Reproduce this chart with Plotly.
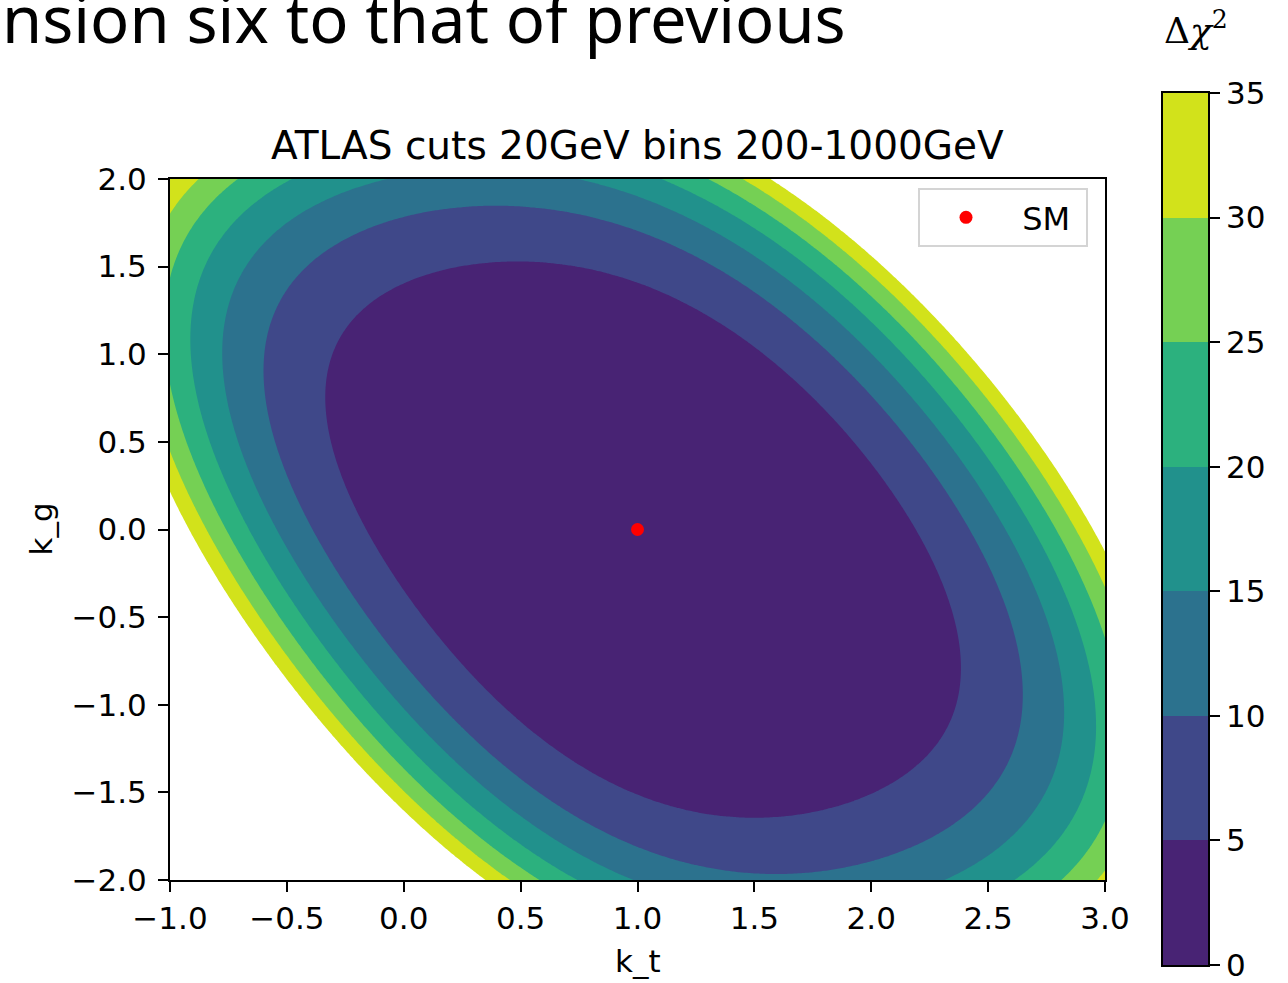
import numpy as np
import plotly.graph_objects as go

# ---------------- data ----------------
title_text = "ATLAS cuts 20GeV bins 200-1000GeV"
x_label = "k_t"
y_label = "k_g"
slide_text = "nsion six to that of previous"
legend_name = "SM"

sm_kt = [1.0]
sm_kg = [0.0]

# contour levels (Delta chi^2)
levels = [0, 5, 10, 15, 20, 25, 30, 35]
band_colors = ["#482374", "#3f4889", "#2c728e", "#21918c",
               "#2cb17e", "#75d054", "#d2e21b"]

# points read on the boundaries of the filled bands (k_t, k_g, level)
bnd_kt = [0.467, -0.046, -0.243, -0.316, -0.324, -0.302, -0.187, -0.144,
          0.185, 1.011, 1.511, 2.18, 2.388, 2.209, 1.61, 0.968,
          2.422, -0.388, 0.455, -0.585, 1.61, 2.649, 0.968,
          2.563, -0.542, -0.016, 0.74, 0.99, 2.337, -0.756, 2.82,
          2.692, -0.658, -0.457, 1.109, 0.741, 2.66, -0.893, 2.953,
          2.794, -0.756, -0.69, 1.31, 0.583, 2.84, -1.0, -1.0, 3.0, 3.0,
          2.88, -0.829, -0.87, 1.451, 0.455, -1.0, -1.0, 3.0,
          2.949, -0.884, 1.567, 3.0, -1.0, 0.348, 2.478, 2.11,
          -0.671, -0.358, 0.082]
bnd_kg = [1.526, 1.384, 1.213, 0.984, 0.796, 0.437, 0.054, 0.0,
          -0.705, -1.527, -1.646, -1.315, -0.762, 0.0, 0.87, 1.44,
          0.0, 0.0, 1.835, 0.910, -1.954, -0.973, 1.72,
          0.0, 0.0, 2.0, 2.0, -2.0, -2.0, 1.064, -1.087,
          0.0, 0.0, 2.0, 2.0, -2.0, -2.0, 1.098, -1.184,
          0.0, 0.0, 2.0, 2.0, -2.0, -2.0, 1.41, 0.482, -0.648, -1.658,
          0.0, 0.0, 2.0, 2.0, -2.0, 1.806, 0.351, -0.362,
          0.0, 0.0, 2.0, -0.157, 0.283, -2.0, 0.91, 1.48,
          -0.516, -1.087, -1.658]
bnd_lvl = [5] * 16 + [10] * 7 + [15] * 8 + [20] * 8 + [25] * 10 + [30] * 8 + [35] * 11

xticks = [-1.0, -0.5, 0.0, 0.5, 1.0, 1.5, 2.0, 2.5, 3.0]
yticks = [-2.0, -1.5, -1.0, -0.5, 0.0, 0.5, 1.0, 1.5, 2.0]

# ---------------- surface through the read boundaries ----------------
dx = np.array(bnd_kt) - sm_kt[0]
dy = np.array(bnd_kg) - sm_kg[0]
lv = np.array(bnd_lvl, dtype=float)
powers = [(i, d - i) for d in (2, 3, 4) for i in range(d + 1)]
A = np.stack([dx ** i * dy ** j for i, j in powers], axis=1)
w = 1.0 / lv
coef = np.linalg.lstsq(A * w[:, None], lv * w, rcond=None)[0]

kt_grid = np.linspace(-1.0, 3.0, 321)
kg_grid = np.linspace(-2.0, 2.0, 321)
DX, DY = np.meshgrid(kt_grid - sm_kt[0], kg_grid - sm_kg[0])
Z = np.zeros_like(DX)
for c, (i, j) in zip(coef, powers):
    Z += c * DX ** i * DY ** j

# fill colorscale: bands below 5 ... 30-35, and white above 35
fill_cols = band_colors + ["#ffffff"]
nb = len(fill_cols)
cs_fill = []
for k, col in enumerate(fill_cols):
    lo = max(0.0, (k - 0.5) / (nb - 1))
    hi = min(1.0, (k + 0.5) / (nb - 1))
    cs_fill += [[lo, col], [hi, col]]

# colorbar colorscale (7 steps)
nc = len(band_colors)
cs_bar = []
for k, col in enumerate(band_colors):
    cs_bar += [[k / nc, col], [(k + 1) / nc, col]]

W, H = 1288, 983
px_l, px_r, px_t, px_b = 170, 1105, 179, 880
cb_l, cb_r, cb_t, cb_b = 1163, 1208, 93, 965

def fx(p):
    return p / W

def fy(p):
    return 1 - p / H

fig = go.Figure()
fig.add_trace(go.Contour(
    x=kt_grid, y=kg_grid, z=Z,
    autocontour=False,
    contours=dict(start=levels[1], end=levels[-1], size=levels[1] - levels[0],
                  coloring="fill", showlines=False),
    colorscale=cs_fill, showscale=False, line=dict(width=0),
    hoverinfo="skip", showlegend=False, xaxis="x", yaxis="y"))

fig.add_trace(go.Scatter(
    x=sm_kt, y=sm_kg, mode="markers", name="\u00a0" + legend_name + "\u00a0",
    marker=dict(color="red", size=13, line=dict(width=0)),
    xaxis="x", yaxis="y"))

mids = [(levels[k] + levels[k + 1]) / 2 for k in range(nc)]
fig.add_trace(go.Heatmap(
    x=[0], y=mids, z=[[m] for m in mids], zmin=levels[0], zmax=levels[-1],
    colorscale=cs_bar, showscale=False, hoverinfo="skip",
    xaxis="x2", yaxis="y2"))

axis_common = dict(showline=True, linecolor="black", linewidth=2, mirror=True,
                   ticks="outside", ticklen=10, tickwidth=2, tickcolor="black",
                   showgrid=False, zeroline=False, automargin=False)

fig.update_layout(
    width=W, height=H, autosize=False,
    margin=dict(l=0, r=0, t=0, b=0, pad=0, autoexpand=False),
    paper_bgcolor="white", plot_bgcolor="white",
    font=dict(family="DejaVu Sans", size=31, color="black"),
    xaxis=dict(domain=[fx(px_l), fx(px_r)], range=[-1, 3], tickvals=xticks,
               tickformat=".1f", anchor="y", **axis_common),
    yaxis=dict(domain=[fy(px_b), fy(px_t)], range=[-2, 2], tickvals=yticks,
               tickformat=".1f", anchor="x", ticklabelstandoff=5, **axis_common),
    xaxis2=dict(domain=[fx(cb_l), fx(cb_r)], range=[-0.5, 0.5], anchor="y2",
                showline=True, linecolor="black", linewidth=1.5, mirror=True,
                showticklabels=False, ticks="", showgrid=False, zeroline=False,
                automargin=False),
    yaxis2=dict(domain=[fy(cb_b), fy(cb_t)], range=[levels[0], levels[-1]],
                tickvals=levels, anchor="x2", side="right",
                showline=True, linecolor="black", linewidth=1.5, mirror=True,
                ticks="outside", ticklen=10, tickwidth=2, tickcolor="black",
                showgrid=False, zeroline=False, automargin=False),
    legend=dict(x=fx(1088), xanchor="right", y=fy(188), yanchor="top",
                bgcolor="white", bordercolor="#d4d4d4", borderwidth=2,
                font=dict(size=32), itemwidth=82),
    showlegend=True,
)

fig.add_annotation(text=title_text, x=fx((px_l + px_r) / 2), y=fy(145),
                   xref="paper", yref="paper", showarrow=False,
                   xanchor="center", yanchor="middle", font=dict(size=39))
fig.add_annotation(text=x_label, x=fx((px_l + px_r) / 2), y=fy(961),
                   xref="paper", yref="paper", showarrow=False,
                   xanchor="center", yanchor="middle", font=dict(size=31))
fig.add_annotation(text=y_label, x=fx(40), y=fy((px_t + px_b) / 2),
                   xref="paper", yref="paper", showarrow=False, textangle=-90,
                   xanchor="center", yanchor="middle", font=dict(size=31))
fig.add_annotation(text="Δ<i>χ</i><sup>2</sup>", x=fx(1196), y=fy(28),
                   xref="paper", yref="paper", showarrow=False,
                   xanchor="center", yanchor="middle",
                   font=dict(family="DejaVu Serif", size=36))
fig.add_annotation(text=slide_text, x=0, y=fy(18),
                   xref="paper", yref="paper", showarrow=False,
                   xanchor="left", yanchor="middle",
                   font=dict(family="Noto Sans", size=65, color="black"))

fig.write_html("out.html")
